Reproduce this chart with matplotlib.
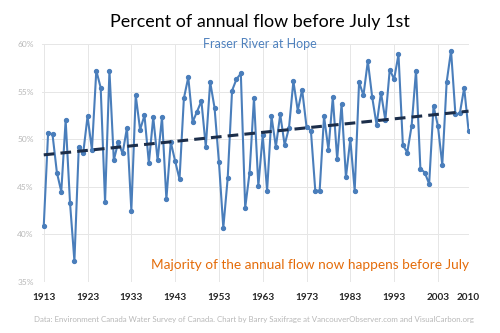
import numpy as np
import matplotlib
matplotlib.use("Agg")
import matplotlib.pyplot as plt

plt.rcParams['font.family'] = ['Lato', 'DejaVu Sans']

# share of the yearly flow that passes before July 1st, Fraser River at Hope
years = np.arange(1913, 2011)
pct = [
    40.9, 50.7, 50.5, 46.5, 44.5, 52.0, 43.3, 37.2, 49.2, 48.5,
    52.4, 48.9, 57.2, 55.4, 43.4, 57.2, 47.8, 49.7, 48.5, 51.2,
    42.5, 54.6, 51.0, 52.5, 47.5, 52.3, 47.8, 52.3, 43.7, 49.7,
    47.7, 45.8, 54.3, 56.5, 51.8, 52.9, 54.0, 49.2, 56.0, 53.3,
    47.6, 40.7, 45.9, 55.1, 56.3, 56.9, 42.8, 46.5, 54.3, 45.1,
    50.4, 44.6, 52.4, 49.2, 52.6, 49.4, 51.2, 56.1, 53.0, 55.2,
    51.3, 50.9, 44.6, 44.6, 52.4, 48.9, 54.4, 47.9, 53.7, 46.0,
    50.0, 44.6, 56.0, 54.6, 58.2, 54.4, 51.5, 54.9, 52.0, 57.3,
    56.3, 58.9, 49.4, 48.6, 51.4, 57.2, 46.9, 46.5, 45.3, 53.5,
    51.4, 47.3, 56.0, 59.3, 52.6, 52.7, 55.4, 50.9,
]
tick_years = [1913, 1923, 1933, 1943, 1953, 1963, 1973, 1983, 1993, 2003, 2010]
y_ticks = [35, 40, 45, 50, 55, 60]

title = "Percent of annual flow before July 1st"
subtitle = "Fraser River at Hope"
note = "Majority of the annual flow now happens before July"
source = ("Data: Environment Canada Water Survey of Canada. Chart by Barry Saxifrage "
          "at VancouverObserver.com and VisualCarbon.org")

fig = plt.figure(figsize=(5, 3.33), dpi=100)
ax = fig.add_axes([0.084, 0.153, 0.854, 0.715])

ax.plot(years, pct, color='#4a7ebb', lw=1.5, marker='o', ms=2.8,
        mec='#4a7ebb', mfc='#4a7ebb', zorder=3)

# linear trend
coef = np.polyfit(years, pct, 1)
ax.plot(years[[0, -1]], np.polyval(coef, years[[0, -1]]), color='#1c2e4a',
        lw=2.2, ls=(0, (3.5, 2)), zorder=4)

ax.set_xlim(1912.6, 2010.1)
ax.set_ylim(35, 60)
ax.set_xticks(tick_years)
ax.set_xticklabels([str(y) for y in tick_years], fontsize=7.2, color='#262626',
                   fontweight='bold')
ax.set_yticks(y_ticks)
ax.set_yticklabels([f"{v}%" for v in y_ticks], fontsize=6, color='#b8b8b8')
ax.tick_params(length=0, pad=6)
ax.tick_params(axis='x', pad=8)
ax.grid(True, color='#e6e6e6', lw=0.7)
ax.set_axisbelow(True)
for s in ax.spines.values():
    s.set_visible(False)

ax.text(2010, 36.8, note, color='#e46c0a', fontsize=9.8, ha='right', va='center')

fig.text(0.52, 0.935, title, fontsize=12.9, color='black', ha='center', va='center')
fig.text(0.52, 0.868, subtitle, fontsize=9, color='#4f81bd', ha='center', va='center')
fig.text(0.508, 0.04, source, fontsize=5.65, color='#b8b8b8', ha='center', va='center')

fig.savefig("out.png", dpi=100)
